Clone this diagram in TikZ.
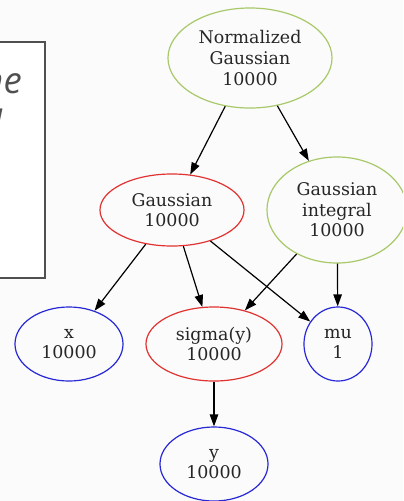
\documentclass[tikz,border=0pt]{standalone}
\usepackage{fontspec}
\setmainfont{DejaVu Serif}
\newfontfamily\notefont{Open Sans}
\usetikzlibrary{shapes.geometric,arrows.meta}

\definecolor{bgcol}{RGB}{250,251,250}
\definecolor{gvred}{RGB}{225,50,50}
\definecolor{gvblue}{RGB}{40,40,215}
\definecolor{gvgreen}{RGB}{168,200,105}
\definecolor{notegray}{RGB}{80,80,80}

\tikzset{
  gv/.style={ellipse, draw, line width=0.85pt, inner sep=0pt, align=center,
    font=\fontsize{12.4}{14.6}\selectfont, text=black!85},
  gvred/.style={gv, draw=gvred},
  gvblue/.style={gv, draw=gvblue},
  gvgreen/.style={gv, draw=gvgreen},
  edge/.style={-{Triangle[length=8.5pt,width=6pt]}, line width=0.85pt, black}
}

\begin{document}
\begin{tikzpicture}[x=0.025cm, y=-0.025cm]
            \useasboundingbox (0, 0) rectangle (403, 501);
            \clip (0, 0) rectangle (403, 501);
            \fill[bgcol] (0, 0) rectangle (403, 501);
            % the boxed note on the left, cut by the frame
            \filldraw[fill=white, draw=notegray, line width=1.1pt] (-20, 42) rectangle (45, 278);
            \node[anchor=base east, inner sep=0pt, text=notegray, font=\notefont\itshape\fontsize{26}{30}\selectfont] (note1) at (22, 93) {he};
            \node[anchor=base east, inner sep=0pt, text=notegray, font=\notefont\itshape\fontsize{26}{30}\selectfont] (note2) at (4, 128) {u};
            % nodes
            \node[gvgreen, minimum width=4.1cm, minimum height=2.5cm] (norm) at (250, 58) {Normalized\\Gaussian\\10000};
            \node[gvred, minimum width=3.6cm, minimum height=1.8cm] (gauss) at (172, 210) {Gaussian\\10000};
            \node[gvgreen, minimum width=3.5cm, minimum height=2.65cm] (gint) at (337, 210) {Gaussian\\integral\\10000};
            \node[gvblue, minimum width=2.7cm, minimum height=1.85cm] (xv) at (69, 344) {x\\10000};
            \node[gvred, minimum width=3.4cm, minimum height=1.85cm] (sig) at (214, 344) {sigma(y)\\10000};
            \node[gvblue, minimum width=1.7cm, minimum height=1.85cm] (mu) at (338, 344) {mu\\1};
            \node[gvblue, minimum width=2.7cm, minimum height=1.85cm] (yv) at (214, 464) {y\\10000};
            % edges
            \draw[edge] (norm) -- (gauss);
            \draw[edge] (norm) -- (gint);
            \draw[edge] (gauss) -- (xv);
            \draw[edge] (gauss) -- (sig);
            \draw[edge] (gauss) -- (mu);
            \draw[edge] (gint) -- (sig);
            \draw[edge] (gint) -- (mu);
            \draw[edge] (sig) -- (yv);
        \end{tikzpicture}
\end{document}
